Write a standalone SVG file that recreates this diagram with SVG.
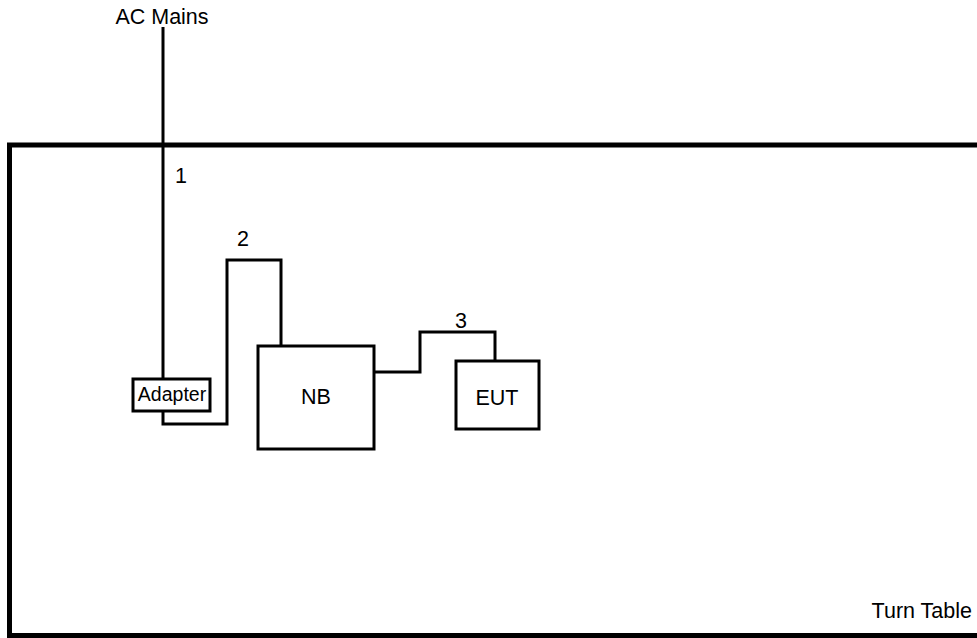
<svg xmlns="http://www.w3.org/2000/svg" width="977" height="638" viewBox="0 0 977 638">
<style>
text{font-family:"Liberation Sans",Arial,sans-serif;font-size:21.5px;fill:#000}
.box{fill:#fff;stroke:#000;stroke-width:3}
.wire{fill:none;stroke:#000;stroke-width:3}
</style>
<rect width="977" height="638" fill="#fff"/>
<g id="turntable">
<path d="M985,145 H9.5 V635.5 H985" fill="none" stroke="#000" stroke-width="5"/>
<text x="972" y="618" text-anchor="end">Turn Table</text>
</g>
<g id="connectors">
<path class="wire" d="M163,27 V380"/>
<path class="wire" d="M163,410 V424 H227 V260 H281 V346"/>
<path class="wire" d="M374,372 H420 V332 H495 V361"/>
<text x="181" y="183" text-anchor="middle">1</text>
<text x="243" y="246" text-anchor="middle">2</text>
<text x="461" y="328" text-anchor="middle">3</text>
</g>
<g id="acmains">
<text x="162" y="24" text-anchor="middle">AC Mains</text>
</g>
<g id="adapter">
<rect class="box" x="133" y="379" width="77" height="32"/>
<text x="172" y="401" text-anchor="middle" style="font-size:19.5px">Adapter</text>
</g>
<g id="nb">
<rect class="box" x="258" y="346" width="116" height="103"/>
<text x="316" y="404" text-anchor="middle">NB</text>
</g>
<g id="eut">
<rect class="box" x="456" y="361" width="83" height="68"/>
<text x="497" y="405" text-anchor="middle">EUT</text>
</g>
</svg>
